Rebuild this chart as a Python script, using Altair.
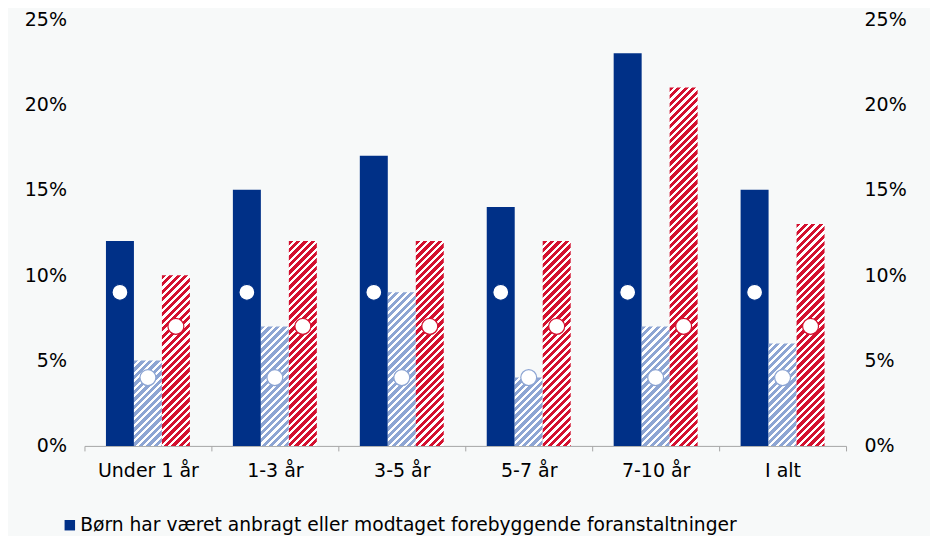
import math
import altair as alt
import pandas as pd

# ---------------- data ----------------
categories = ["Under 1 år", "1-3 år", "3-5 år", "5-7 år", "7-10 år", "I alt"]
series_keys = ["s1", "s2", "s3"]
legend_label = "Børn har været anbragt eller modtaget forebyggende foranstaltninger"

bars_s1 = [0.12, 0.15, 0.17, 0.14, 0.23, 0.15]
bars_s2 = [0.05, 0.07, 0.09, 0.04, 0.07, 0.06]
bars_s3 = [0.10, 0.12, 0.12, 0.12, 0.21, 0.13]

dots_s1 = [0.09, 0.09, 0.09, 0.09, 0.09, 0.09]
dots_s2 = [0.04, 0.04, 0.04, 0.04, 0.04, 0.04]
dots_s3 = [0.07, 0.07, 0.07, 0.07, 0.07, 0.07]

y_ticks = [0.0, 0.05, 0.10, 0.15, 0.20, 0.25]
y_max = 0.25

# ---------------- style ----------------
DARK = "#003087"
LIGHT = "#8da5d3"
RED = "#d3112f"
BG = "#f7f9f9"
FONT = "DejaVu Sans"
PLOT_W = 762
PLOT_H = 427
BAR_W = 28          # pixel width of one bar
STRIPE_P = 5.3      # stripe period (px, perpendicular)
STRIPE_F = 0.58     # share of coloured part

def hatch(color, value):
    """Diagonal '/' stripes as a linear gradient in bbox units."""
    W = BAR_W
    H = value / y_max * PLOT_H
    a = (W + H) / (W * W + H * H)
    span = (W + H) / math.sqrt(2)
    pt = STRIPE_P / span
    stops = []
    k = 0
    while k * pt < 1:
        s = k * pt
        e = min(s + STRIPE_F * pt, 1.0)
        n = min((k + 1) * pt, 1.0)
        stops += [alt.GradientStop(color=color, offset=s),
                  alt.GradientStop(color=color, offset=e),
                  alt.GradientStop(color="white", offset=e),
                  alt.GradientStop(color="white", offset=n)]
        k += 1
    return alt.Gradient(gradient="linear", stops=stops,
                        x1=0, y1=0, x2=a * W, y2=a * H)

x_enc = alt.X("cat:N", sort=categories,
              scale=alt.Scale(domain=categories, paddingInner=0, paddingOuter=0),
              axis=alt.Axis(title=None, labelAngle=0, tickBand="extent",
                            tickSize=5, tickColor="#a6a6a6", domainColor="#a6a6a6",
                            labelFont=FONT, labelFontSize=19, labelColor="#000000",
                            labelPadding=11, grid=False))
xo_enc = alt.XOffset("key:N", scale=alt.Scale(domain=series_keys, paddingInner=0,
                                              paddingOuter=0.768))

def y_enc(orient):
    return alt.Y("v:Q", scale=alt.Scale(domain=[0, y_max], nice=False, zero=True),
                 axis=alt.Axis(orient=orient, title=None, values=y_ticks, format=".0%",
                               domain=False, ticks=False, grid=False,
                               labelFont=FONT, labelFontSize=19, labelColor="#000000",
                               labelPadding=18))

# dark solid bars (with legend)
df1 = pd.DataFrame({"cat": categories, "key": "s1", "v": bars_s1, "serie": legend_label})
dark_bars = alt.Chart(df1).mark_bar().encode(
    x=x_enc, xOffset=xo_enc, y=y_enc("left"),
    color=alt.Color("serie:N", scale=alt.Scale(domain=[legend_label], range=[DARK]),
                    legend=alt.Legend(title=None, orient="none", legendX=-24, legendY=497,
                                      symbolType="square", symbolSize=110,
                                      symbolStrokeWidth=0, labelFont=FONT,
                                      labelFontSize=18.7, labelColor="#000000",
                                      labelLimit=0, labelOffset=1, padding=0)))

hatched = []
for key, vals, col in [("s2", bars_s2, LIGHT), ("s3", bars_s3, RED)]:
    for c, v in zip(categories, vals):
        d = pd.DataFrame({"cat": [c], "key": [key], "v": [v]})
        hatched.append(alt.Chart(d).mark_bar(color=hatch(col, v)).encode(
            x=x_enc, xOffset=xo_enc, y=y_enc("left")))

inner = alt.layer(dark_bars, *hatched)

dots = pd.DataFrame({
    "cat": categories * 3,
    "key": ["s1"] * 6 + ["s2"] * 6 + ["s3"] * 6,
    "v": dots_s1 + dots_s2 + dots_s3,
})
circles = alt.Chart(dots).mark_circle(fill="white", opacity=1, size=254,
                                      strokeWidth=1.2).encode(
    x=x_enc, xOffset=xo_enc, y=y_enc("right"),
    stroke=alt.Stroke("key:N", scale=alt.Scale(domain=series_keys,
                                               range=[DARK, LIGHT, RED]), legend=None))

chart = alt.layer(inner, circles).resolve_axis(y="independent").properties(
    width=PLOT_W, height=PLOT_H,
    padding={"left": 76.5, "top": 11, "right": 84, "bottom": 90},
    autosize=alt.AutoSizeParams(type="none"),
    background=BG,
).configure_view(stroke=None)

chart.save("out.html", embed_options={"renderer": "svg", "actions": False})
